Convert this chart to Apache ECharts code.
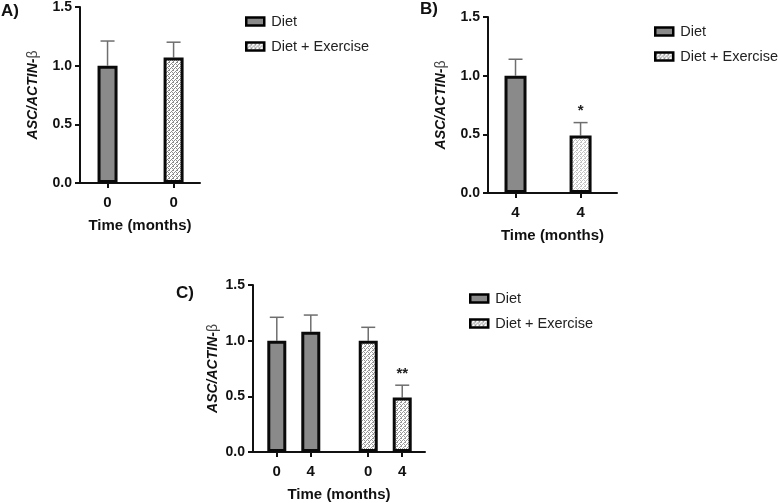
<!DOCTYPE html>
<html>
<head>
<meta charset="utf-8">
<script src="https://cdn.jsdelivr.net/npm/echarts@6/dist/echarts.min.js"></script>
<style>
html, body { margin: 0; padding: 0; background: #fff; }
#main { width: 778px; height: 503px; }
</style>
</head>
<body>
<div id="main"></div>
<script>
var groupNames = ['Diet', 'Diet + Exercise'];

// A) baseline (month 0)
var labelsA = ['0', '0'];
var groupsA = ['Diet', 'Diet + Exercise'];
var meansA = [1.00, 1.07];
var errsA = [0.21, 0.13];
var sigA = ['', ''];

// B) after 4 months
var labelsB = ['4', '4'];
var groupsB = ['Diet', 'Diet + Exercise'];
var meansB = [1.00, 0.49];
var errsB = [0.14, 0.11];
var sigB = ['', '*'];

// C) both time points
var labelsC = ['0', '4', '0', '4'];
var groupsC = ['Diet', 'Diet', 'Diet + Exercise', 'Diet + Exercise'];
var meansC = [1.00, 1.08, 1.00, 0.49];
var errsC = [0.21, 0.15, 0.12, 0.11];
var sigC = ['', '', '', '**'];

var FONT = '"Liberation Sans", Arial, sans-serif';
var dom = document.getElementById('main');
var chart = echarts.init(dom);

function makePattern(dot) {
    var c = document.createElement('canvas');
    c.width = 4; c.height = 4;
    var ctx = c.getContext('2d');
    ctx.fillStyle = '#fff';
    ctx.fillRect(0, 0, 4, 4);
    ctx.fillStyle = dot;
    ctx.fillRect(0, 0, 1, 1);
    ctx.fillRect(2, 0, 1, 1);
    ctx.fillRect(1, 1, 1, 1);
    ctx.fillRect(0, 2, 2, 1);
    ctx.fillRect(3, 3, 1, 1);
    return { image: c, repeat: 'repeat' };
}

var fills = {
    A: { 'Diet': '#8a8a8a', 'Diet + Exercise': makePattern('#8a8a8a') },
    B: { 'Diet': '#8a8a8a', 'Diet + Exercise': makePattern('#c2c2c2') },
    C: { 'Diet': '#8a8a8a', 'Diet + Exercise': makePattern('#999') }
};

// x positions in bar units; an extra gap is added when the group changes (panel C)
function positions(groups, gap) {
    var out = [], x = 0;
    for (var i = 0; i < groups.length; i++) {
        if (i > 0) x += 1 + (groups[i] !== groups[i - 1] ? gap : 0);
        out.push(x);
    }
    return out;
}

var panels = [
    { key: 'A', labels: labelsA, groups: groupsA, means: meansA, errs: errsA, sig: sigA,
      gap: 0, grid: { left: 80, width: 120, top: 6, height: 177 }, min: -0.417, max: 1.40, barWidth: 20, nameGap: 40 },
    { key: 'B', labels: labelsB, groups: groupsB, means: meansB, errs: errsB, sig: sigB,
      gap: 0, grid: { left: 488, width: 129, top: 17, height: 176 }, min: -0.423, max: 1.56, barWidth: 22, nameGap: 40 },
    { key: 'C', labels: labelsC, groups: groupsC, means: meansC, errs: errsC, sig: sigC,
      gap: 0.69, grid: { left: 253, width: 172, top: 285, height: 169 }, min: -0.70, max: 4.36, barWidth: 19, nameGap: 33 }
];

var grids = [], xAxes = [], yAxes = [], series = [];

panels.forEach(function (p, k) {
    var xs = positions(p.groups, p.gap);
    grids.push(p.grid);
    xAxes.push({
        gridIndex: k,
        type: 'value',
        min: p.min,
        max: p.max,
        name: 'Time (months)',
        nameLocation: 'middle',
        nameGap: 35,
        nameTextStyle: { fontFamily: FONT, fontWeight: 'bold', fontSize: 15, color: '#111' },
        axisLine: { show: true, onZero: false, lineStyle: { color: '#111', width: 2 } },
        axisTick: { show: true, customValues: xs, length: 5, lineStyle: { color: '#111', width: 2 } },
        axisLabel: {
            customValues: xs,
            margin: 12,
            fontFamily: FONT, fontWeight: 'bold', fontSize: 15, color: '#111',
            formatter: function (v) {
                var i = xs.indexOf(v);
                return i >= 0 ? p.labels[i] : '';
            }
        },
        splitLine: { show: false }
    });
    yAxes.push({
        gridIndex: k,
        type: 'value',
        min: 0,
        max: 1.5,
        interval: 0.5,
        name: '{i|ASC/ACTIN-}{b|β}',
        nameLocation: 'middle',
        nameGap: p.nameGap,
        nameTextStyle: {
            rich: {
                i: { fontFamily: FONT, fontStyle: 'italic', fontWeight: 'bold', fontSize: 14, color: '#111' },
                b: { fontFamily: FONT, fontSize: 14, color: '#444' }
            }
        },
        axisLine: { show: true, onZero: false, lineStyle: { color: '#111', width: 2 } },
        axisTick: { show: true, length: 5, lineStyle: { color: '#111', width: 2 } },
        axisLabel: {
            margin: 8,
            fontFamily: FONT, fontWeight: 'bold', fontSize: 14, color: '#111',
            formatter: function (v) { return v.toFixed(1); }
        },
        splitLine: { show: false }
    });

    groupNames.forEach(function (g) {
        var data = [];
        for (var i = 0; i < p.means.length; i++) {
            if (p.groups[i] === g) data.push([xs[i], p.means[i]]);
        }
        series.push({
            type: 'bar',
            name: g,
            xAxisIndex: k,
            yAxisIndex: k,
            barWidth: p.barWidth,
            barGap: '-100%',
            data: data,
            itemStyle: { color: fills[p.key][g], borderColor: '#0a0a0a', borderWidth: 3 },
            emphasis: { disabled: true },
            z: 2
        });
    });

    var errData = [];
    for (var i = 0; i < p.means.length; i++) {
        errData.push([xs[i], p.means[i], p.means[i] + p.errs[i], p.sig[i]]);
    }
    series.push({
        type: 'custom',
        xAxisIndex: k,
        yAxisIndex: k,
        data: errData,
        z: 1,
        silent: true,
        renderItem: function (params, api) {
            var base = api.coord([api.value(0), api.value(1)]);
            var top = api.coord([api.value(0), api.value(2)]);
            var s = errData[params.dataIndex][3];
            var children = [
                { type: 'line', shape: { x1: base[0], y1: base[1], x2: top[0], y2: top[1] },
                  style: { stroke: '#6e6e6e', lineWidth: 1.5 } },
                { type: 'line', shape: { x1: top[0] - 7, y1: top[1], x2: top[0] + 7, y2: top[1] },
                  style: { stroke: '#6e6e6e', lineWidth: 1.5 } }
            ];
            if (s) {
                children.push({ type: 'text', x: top[0], y: top[1] - 4,
                    style: { text: s, fontFamily: FONT, fontWeight: 'bold', fontSize: 15,
                             fill: '#222', align: 'center', verticalAlign: 'bottom' } });
            }
            return { type: 'group', children: children };
        }
    });
});

function legendAt(left, top) {
    return {
        orient: 'vertical',
        left: left,
        top: top,
        icon: 'rect',
        itemWidth: 18,
        itemHeight: 8,
        itemGap: 10,
        data: groupNames,
        selectedMode: false,
        itemStyle: { borderColor: '#000', borderWidth: 2.5 },
        textStyle: { fontFamily: FONT, fontSize: 14.5, color: '#222', padding: [0, 0, 0, 2] }
    };
}

chart.setOption({
    animation: false,
    grid: grids,
    xAxis: xAxes,
    yAxis: yAxes,
    legend: [legendAt(240, 9), legendAt(649, 19), legendAt(464, 286)],
    graphic: [
        { type: 'text', left: 1, top: 3, style: { text: 'A)', fontFamily: FONT, fontWeight: 'bold', fontSize: 17, fill: '#111' } },
        { type: 'text', left: 420, top: 1, style: { text: 'B)', fontFamily: FONT, fontWeight: 'bold', fontSize: 17, fill: '#111' } },
        { type: 'text', left: 176, top: 285, style: { text: 'C)', fontFamily: FONT, fontWeight: 'bold', fontSize: 17, fill: '#111' } }
    ],
    series: series
});
</script>
</body>
</html>
